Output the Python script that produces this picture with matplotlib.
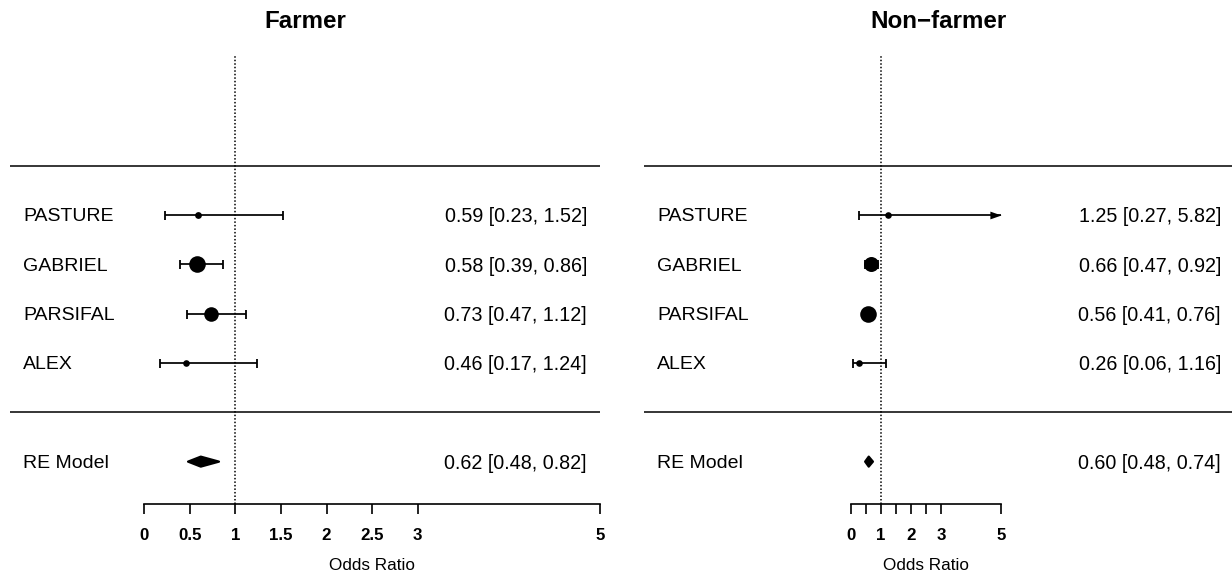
import numpy as np
import matplotlib
matplotlib.use("Agg")
import matplotlib.pyplot as plt
from matplotlib.patches import Polygon

plt.rcParams['font.family'] = ['Liberation Sans', 'DejaVu Sans']

# ---- data -------------------------------------------------------------
studies = ["PASTURE", "GABRIEL", "PARSIFAL", "ALEX"]

farmer_or = [0.59, 0.58, 0.73, 0.46]
farmer_lo = [0.23, 0.39, 0.47, 0.17]
farmer_hi = [1.52, 0.86, 1.12, 1.24]
farmer_re = [0.62, 0.48, 0.82]          # estimate, lower, upper

nonfarmer_or = [1.25, 0.66, 0.56, 0.26]
nonfarmer_lo = [0.27, 0.47, 0.41, 0.06]
nonfarmer_hi = [5.82, 0.92, 0.76, 1.16]
nonfarmer_re = [0.60, 0.48, 0.74]

tick_values = [0, 0.5, 1, 1.5, 2, 2.5, 3, 5]
farmer_tick_labels = ["0", "0.5", "1", "1.5", "2", "2.5", "3", "5"]
nonfarmer_tick_labels = ["0", "", "1", "", "2", "", "3", "5"]

# ---- layout (pixels of a 1232 x 574 canvas) ---------------------------
W, H, DPI = 1232, 574, 100
ROW0_PX, ROW_PX = 412.3, 49.33          # pixel y of row 0, pixels per row
AXIS_ROW = (ROW0_PX - 503.5) / ROW_PX
REF_TOP_ROW = (ROW0_PX - 55) / ROW_PX
XLAB_ROW = (ROW0_PX - 565) / ROW_PX
ALIM = (0, 5)
PX = 1 / DPI * 72                       # points per pixel

fig = plt.figure(figsize=(W / DPI, H / DPI), dpi=DPI)


def make_axes(left_px, right_px, zero_px, unit_px):
    ax = fig.add_axes([left_px / W, 0, (right_px - left_px) / W, 1])
    ax.set_xlim((left_px - zero_px) / unit_px, (right_px - zero_px) / unit_px)
    ax.set_ylim((ROW0_PX - H) / ROW_PX, ROW0_PX / ROW_PX)
    ax.set_facecolor("none")
    return ax


def marker_scale(lo, hi):
    # point size grows with the inverse-variance weight of each study
    se = (np.log(hi) - np.log(lo)) / (2 * 1.96)
    w = 1 / se ** 2
    return 0.5 + (w - w.min()) / (w.max() - w.min())


def draw_panel(ax, title, est, lo, hi, re, ticklabels, zero_px, unit_px,
               label_px, annot_px):
    est, lo, hi = map(np.asarray, (est, lo, hi))
    k = len(studies)
    rows = np.arange(k, 0, -1)
    to_x = lambda px: (px - zero_px) / unit_px

    for s in ax.spines.values():
        s.set_visible(False)
    ax.set_yticks([])

    # separators and reference line
    ax.axhline(k + 1, color="black", lw=1.1)
    ax.axhline(0, color="black", lw=1.1)
    ax.vlines(1, AXIS_ROW, REF_TOP_ROW, color="black", lw=1.1,
              linestyles=(0, (1, 1.3)))

    psize = marker_scale(lo, hi)
    cap = dict(marker="|", markersize=9 * PX, mew=1.3, color="black", ls="none")
    for r, e, l, h, p in zip(rows, est, lo, hi, psize):
        right = min(h, ALIM[1])
        ax.hlines(r, l, right, color="black", lw=1.25)
        ax.plot([l], [r], **cap)
        if h > ALIM[1]:
            ax.plot([right], [r], marker=[(0, 0), (-2, 0.7), (-2, -0.7)],
                    markersize=16, color="black", mew=0, ls="none")
        else:
            ax.plot([right], [r], **cap)
        ax.plot([e], [r], marker="o", markersize=(10 * p + 1.6) * PX,
                color="black", mew=0, ls="none")

    # summary diamond
    e, l, h = re
    half = 5.0 / ROW_PX
    ax.add_patch(Polygon([(l, -1), (e, -1 + half), (h, -1), (e, -1 - half)],
                         closed=True, facecolor="black", edgecolor="black",
                         lw=1.6, joinstyle="round"))

    # row labels and annotations
    for r, name, e_, l_, h_ in zip(rows, studies, est, lo, hi):
        ax.text(to_x(label_px), r, name, fontsize=14, ha="left",
                va="center_baseline")
        ax.text(to_x(annot_px), r, f"{e_:.2f} [{l_:.2f}, {h_:.2f}]",
                fontsize=14.2, ha="right", va="center_baseline")
    ax.text(to_x(label_px), -1, "RE Model", fontsize=14, ha="left",
            va="center_baseline")
    ax.text(to_x(annot_px), -1, f"{e:.2f} [{l:.2f}, {h:.2f}]",
            fontsize=14.2, ha="right", va="center_baseline")

    # x axis
    sp = ax.spines["bottom"]
    sp.set_visible(True)
    sp.set_position(("data", AXIS_ROW))
    sp.set_bounds(*ALIM)
    sp.set_linewidth(1.2)
    ax.set_xticks(tick_values)
    ax.set_xticklabels(ticklabels, fontweight="bold")
    ax.tick_params(axis="x", direction="out", length=10 * PX, width=1.2,
                   pad=10.5, labelsize=12.2)
    ax.text(np.mean(ALIM), XLAB_ROW, "Odds Ratio", fontsize=12.3,
            ha="center", va="center")

    ax.text(0.5, 1 - 22 / H, title, transform=ax.transAxes, ha="center",
            va="center", fontsize=17.4, fontweight="bold")


ax1 = make_axes(10, 600, 144.3, 91.1)
draw_panel(ax1, "Farmer", farmer_or, farmer_lo, farmer_hi, farmer_re,
           farmer_tick_labels, 144.3, 91.1, 23, 587)

ax2 = make_axes(644, 1232, 850.7, 30.06)
draw_panel(ax2, "Non\u2212farmer", nonfarmer_or, nonfarmer_lo, nonfarmer_hi,
           nonfarmer_re, nonfarmer_tick_labels, 850.7, 30.06, 657, 1221)

fig.savefig("out.png", dpi=DPI, facecolor="white")
